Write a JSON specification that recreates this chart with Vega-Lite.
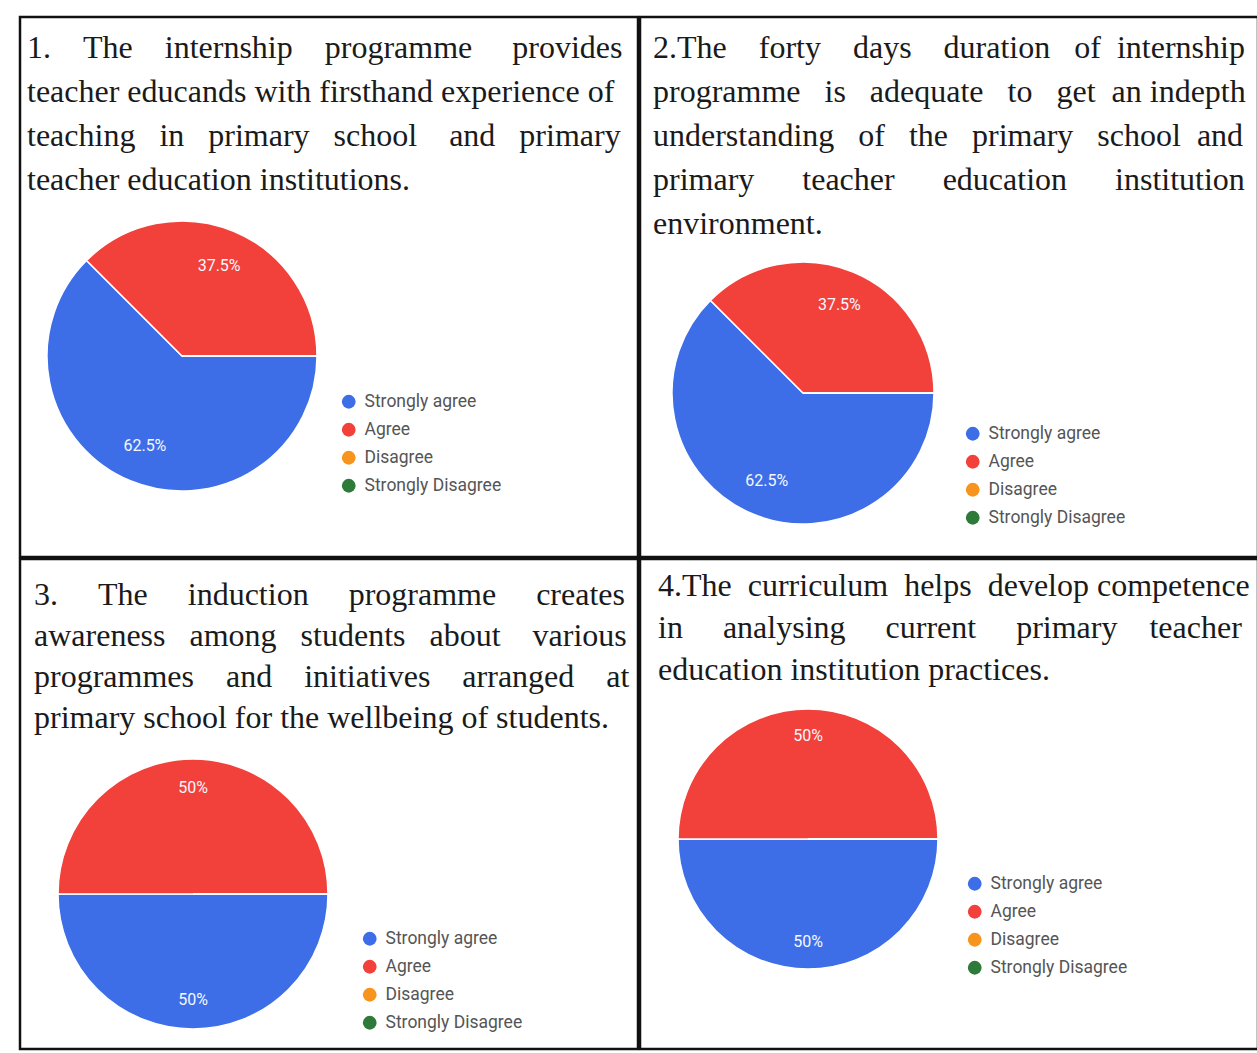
{
  "$schema": "https://vega.github.io/schema/vega-lite/v6.json",
  "background": "white",
  "padding": {"left": 18, "top": 15, "right": 0, "bottom": 0},
  "autosize": {"type": "pad"},
  "config": {
    "view": {"stroke": "#111111", "strokeWidth": 2.5},
    "concat": {"spacing": 0},
    "title": {"font": "Liberation Serif", "fontSize": 32, "fontWeight": "normal", "color": "#1a1a1a", "lineHeight": 44, "anchor": "start", "frame": "group", "baseline": "top"},
    "legend": {"labelFont": "Roboto", "labelFontSize": 17.5, "labelColor": "#555555", "labelOffset": 7, "symbolType": "circle", "symbolSize": 190, "symbolStrokeWidth": 0, "rowPadding": 9, "title": null, "orient": "none"},
    "text": {"font": "Roboto"}
  },
  "datasets": {
    "q": [
      {"q": 1, "answer": "Strongly agree", "rank": 1, "value": 0.625},
      {"q": 1, "answer": "Agree", "rank": 2, "value": 0.375},
      {"q": 1, "answer": "Disagree", "rank": 3, "value": 0},
      {"q": 1, "answer": "Strongly Disagree", "rank": 4, "value": 0},
      {"q": 2, "answer": "Strongly agree", "rank": 1, "value": 0.625},
      {"q": 2, "answer": "Agree", "rank": 2, "value": 0.375},
      {"q": 2, "answer": "Disagree", "rank": 3, "value": 0},
      {"q": 2, "answer": "Strongly Disagree", "rank": 4, "value": 0},
      {"q": 3, "answer": "Strongly agree", "rank": 1, "value": 0.5},
      {"q": 3, "answer": "Agree", "rank": 2, "value": 0.5},
      {"q": 3, "answer": "Disagree", "rank": 3, "value": 0},
      {"q": 3, "answer": "Strongly Disagree", "rank": 4, "value": 0},
      {"q": 4, "answer": "Strongly agree", "rank": 1, "value": 0.5},
      {"q": 4, "answer": "Agree", "rank": 2, "value": 0.5},
      {"q": 4, "answer": "Disagree", "rank": 3, "value": 0},
      {"q": 4, "answer": "Strongly Disagree", "rank": 4, "value": 0}
    ]
  },
  "spacing": -3,
  "resolve": {"scale": {"color": "independent", "theta": "independent"}, "legend": {"color": "independent"}},
  "vconcat": [
    {
      "spacing": -3,
      "resolve": {"scale": {"color": "independent", "theta": "independent"}, "legend": {"color": "independent"}},
      "hconcat": [
        {
          "width": 618, "height": 540,
          "view": {"stroke": "#111111", "strokeWidth": 2.5},
          "title": {"text": ["1. \u00a0\u00a0\u00a0The \u00a0\u00a0\u00a0internship \u00a0\u00a0\u00a0programme \u00a0\u00a0\u00a0\u00a0provides", "teacher educands with firsthand experience of", "teaching \u00a0\u00a0in \u00a0\u00a0primary \u00a0\u00a0school \u00a0\u00a0\u00a0and \u00a0\u00a0primary", "teacher education institutions."], "offset": -180, "dx": 7},
          "data": {"name": "q"},
          "transform": [{"filter": "datum.q == 1"}],
          "layer": [
            {"mark": {"type": "arc", "radius": 135, "x": 162, "y": 339, "stroke": "white", "strokeWidth": 1.5},
             "encoding": {
               "theta": {"field": "value", "type": "quantitative", "stack": true, "scale": {"range": [1.5708, 7.854]}},
               "color": {"field": "answer", "type": "nominal", "scale": {"domain": ["Strongly agree", "Agree", "Disagree", "Strongly Disagree"], "range": ["#3d6ee8", "#f2403a", "#f7941d", "#2f7a3a"]}, "legend": {"legendX": 320, "legendY": 376}},
               "order": {"field": "rank"}}},
            {"transform": [{"filter": "datum.value > 0"}],
             "mark": {"type": "text", "radius": 97, "x": 162, "y": 339, "fill": "#f4f8ff", "fontSize": 16},
             "encoding": {
               "theta": {"field": "value", "type": "quantitative", "stack": true},
               "text": {"field": "value", "type": "quantitative", "format": ".1~%"},
               "order": {"field": "rank"}}}
          ]
        },
        {
          "width": 618, "height": 540,
          "view": {"stroke": "#111111", "strokeWidth": 2.5},
          "title": {"text": ["2.The \u00a0\u00a0\u00a0forty \u00a0\u00a0\u00a0days \u00a0\u00a0\u00a0duration \u00a0\u00a0of \u00a0internship", "programme \u00a0\u00a0is \u00a0\u00a0adequate \u00a0\u00a0to \u00a0\u00a0get \u00a0an indepth", "understanding \u00a0\u00a0of \u00a0\u00a0the \u00a0\u00a0primary \u00a0\u00a0school \u00a0and", "primary \u00a0\u00a0\u00a0\u00a0\u00a0teacher \u00a0\u00a0\u00a0\u00a0\u00a0education \u00a0\u00a0\u00a0\u00a0\u00a0institution", "environment."], "offset": -224, "dx": 13},
          "data": {"name": "q"},
          "transform": [{"filter": "datum.q == 2"}],
          "layer": [
            {"mark": {"type": "arc", "radius": 131, "x": 163, "y": 376, "stroke": "white", "strokeWidth": 1.5},
             "encoding": {
               "theta": {"field": "value", "type": "quantitative", "stack": true, "scale": {"range": [1.5708, 7.854]}},
               "color": {"field": "answer", "type": "nominal", "scale": {"domain": ["Strongly agree", "Agree", "Disagree", "Strongly Disagree"], "range": ["#3d6ee8", "#f2403a", "#f7941d", "#2f7a3a"]}, "legend": {"legendX": 324, "legendY": 408}},
               "order": {"field": "rank"}}},
            {"transform": [{"filter": "datum.value > 0"}],
             "mark": {"type": "text", "radius": 95, "x": 163, "y": 376, "fill": "#f4f8ff", "fontSize": 16},
             "encoding": {
               "theta": {"field": "value", "type": "quantitative", "stack": true},
               "text": {"field": "value", "type": "quantitative", "format": ".1~%"},
               "order": {"field": "rank"}}}
          ]
        }
      ]
    },
    {
      "spacing": -3,
      "resolve": {"scale": {"color": "independent", "theta": "independent"}, "legend": {"color": "independent"}},
      "hconcat": [
        {
          "width": 618, "height": 490,
          "view": {"stroke": "#111111", "strokeWidth": 2.5},
          "title": {"text": ["3. \u00a0\u00a0\u00a0\u00a0The \u00a0\u00a0\u00a0\u00a0induction \u00a0\u00a0\u00a0\u00a0programme \u00a0\u00a0\u00a0\u00a0creates", "awareness \u00a0\u00a0among \u00a0\u00a0students \u00a0\u00a0about \u00a0\u00a0\u00a0various", "programmes \u00a0\u00a0\u00a0and \u00a0\u00a0\u00a0initiatives \u00a0\u00a0\u00a0arranged \u00a0\u00a0\u00a0at", "primary school for the wellbeing of students."], "offset": -176, "dx": 14, "lineHeight": 41},
          "data": {"name": "q"},
          "transform": [{"filter": "datum.q == 3"}],
          "layer": [
            {"mark": {"type": "arc", "radius": 135, "x": 173, "y": 335, "stroke": "white", "strokeWidth": 1.5},
             "encoding": {
               "theta": {"field": "value", "type": "quantitative", "stack": true, "scale": {"range": [1.5708, 7.854]}},
               "color": {"field": "answer", "type": "nominal", "scale": {"domain": ["Strongly agree", "Agree", "Disagree", "Strongly Disagree"], "range": ["#3d6ee8", "#f2403a", "#f7941d", "#2f7a3a"]}, "legend": {"legendX": 341, "legendY": 371}},
               "order": {"field": "rank"}}},
            {"transform": [{"filter": "datum.value > 0"}],
             "mark": {"type": "text", "radius": 106, "x": 173, "y": 335, "fill": "#f4f8ff", "fontSize": 16},
             "encoding": {
               "theta": {"field": "value", "type": "quantitative", "stack": true},
               "text": {"field": "value", "type": "quantitative", "format": ".1~%"},
               "order": {"field": "rank"}}}
          ]
        },
        {
          "width": 618, "height": 490,
          "view": {"stroke": "#111111", "strokeWidth": 2.5},
          "title": {"text": ["4.The \u00a0curriculum \u00a0helps \u00a0develop competence", "in \u00a0\u00a0\u00a0\u00a0analysing \u00a0\u00a0\u00a0\u00a0current \u00a0\u00a0\u00a0\u00a0primary \u00a0\u00a0\u00a0teacher", "education institution practices."], "offset": -128, "dx": 18, "lineHeight": 42},
          "data": {"name": "q"},
          "transform": [{"filter": "datum.q == 4"}],
          "layer": [
            {"mark": {"type": "arc", "radius": 130, "x": 168, "y": 280, "stroke": "white", "strokeWidth": 1.5},
             "encoding": {
               "theta": {"field": "value", "type": "quantitative", "stack": true, "scale": {"range": [1.5708, 7.854]}},
               "color": {"field": "answer", "type": "nominal", "scale": {"domain": ["Strongly agree", "Agree", "Disagree", "Strongly Disagree"], "range": ["#3d6ee8", "#f2403a", "#f7941d", "#2f7a3a"]}, "legend": {"legendX": 326, "legendY": 316}},
               "order": {"field": "rank"}}},
            {"transform": [{"filter": "datum.value > 0"}],
             "mark": {"type": "text", "radius": 103, "x": 168, "y": 280, "fill": "#f4f8ff", "fontSize": 16},
             "encoding": {
               "theta": {"field": "value", "type": "quantitative", "stack": true},
               "text": {"field": "value", "type": "quantitative", "format": ".1~%"},
               "order": {"field": "rank"}}}
          ]
        }
      ]
    }
  ]
}
